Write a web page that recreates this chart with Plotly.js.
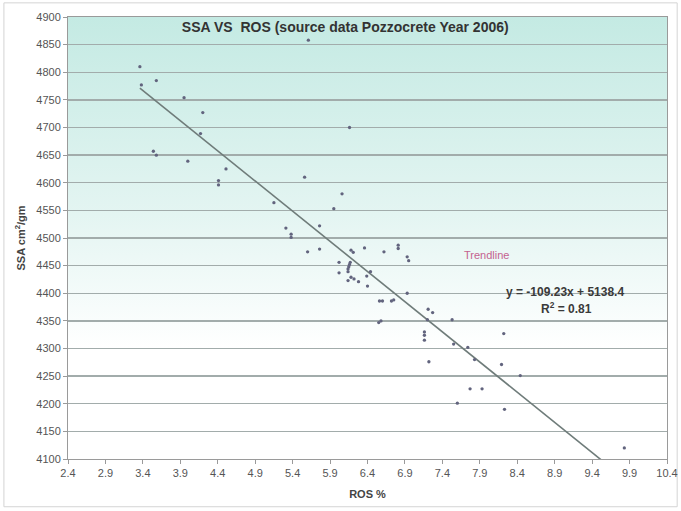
<!DOCTYPE html>
<html>
<head>
<meta charset="utf-8">
<script src="https://cdn.plot.ly/plotly-3.0.1.min.js"></script>
<style>
html,body{margin:0;padding:0;background:#fff;}
#chart{width:681px;height:511px;}
</style>
</head>
<body>
<div id="chart"></div>
<script>
// ROS % values
const rosValues = [
  3.36, 3.38, 3.58, 3.95, 4.20, 4.17, 3.54, 3.58, 4.00, 4.51, 4.41, 4.41,
  5.61, 6.16, 5.56, 6.06, 5.15, 5.95, 5.31, 5.38, 5.38, 5.76, 5.60, 5.76,
  6.18, 6.21, 6.02, 6.36, 6.62, 6.81, 6.81, 6.93, 6.95, 6.17, 6.16, 6.15,
  6.14, 6.14, 6.02, 6.44, 6.14, 6.18, 6.22, 6.28, 6.39, 6.40, 6.93, 6.56,
  6.60, 6.72, 6.75, 6.55, 6.58, 7.21, 7.27, 7.20, 7.53, 7.16, 7.16, 7.16,
  8.22, 7.55, 7.74, 7.83, 7.22, 8.19, 8.44, 7.77, 7.93, 7.60, 8.23, 9.83
];
// SSA cm2/gm values
const ssaValues = [
  4810, 4777, 4785, 4754, 4727, 4689, 4657, 4650, 4639, 4625, 4604, 4596,
  4858, 4700, 4610, 4580, 4564, 4553, 4518, 4507, 4501, 4522, 4475, 4480,
  4478, 4474, 4456, 4482, 4475, 4487, 4481, 4466, 4459, 4456, 4452, 4448,
  4444, 4439, 4437, 4439, 4423, 4429, 4426, 4421, 4431, 4413, 4400, 4386,
  4386, 4386, 4388, 4347, 4350, 4371, 4365, 4352, 4352, 4330, 4324, 4315,
  4327, 4308, 4302, 4280, 4276, 4271, 4251, 4227, 4227, 4201, 4190, 4120
];
// trendline parameters
const trendSlope = -109.23;
const trendIntercept = 5138.4;
const rSquared = 0.81;
const xTickVals = [2.4, 2.9, 3.4, 3.9, 4.4, 4.9, 5.4, 5.9, 6.4, 6.9, 7.4, 7.9, 8.4, 8.9, 9.4, 9.9, 10.4];
const yTickVals = [4100, 4150, 4200, 4250, 4300, 4350, 4400, 4450, 4500, 4550, 4600, 4650, 4700, 4750, 4800, 4850, 4900];

const xMin = Math.min(...rosValues), xMax = Math.max(...rosValues);
const trendX = [xMin, xMax];
const trendY = trendX.map(x => trendSlope * x + trendIntercept);

const gradSvg = '<svg xmlns="http://www.w3.org/2000/svg" width="100" height="100" preserveAspectRatio="none">' +
  '<defs><linearGradient id="g" x1="0" y1="0" x2="0" y2="1">' +
  '<stop offset="0" stop-color="#c4eae3"/><stop offset="0.45" stop-color="#e4f5f2"/>' +
  '<stop offset="0.75" stop-color="#ffffff"/><stop offset="1" stop-color="#ffffff"/></linearGradient></defs>' +
  '<rect width="100" height="100" fill="url(#g)"/></svg>';
const gradUri = 'data:image/svg+xml;charset=utf-8,' + encodeURIComponent(gradSvg);

const traces = [
  {
    x: trendX, y: trendY, type: 'scatter', mode: 'lines',
    line: {color: '#6f7c7a', width: 1.6}, hoverinfo: 'skip', showlegend: false
  },
  {
    x: rosValues, y: ssaValues, type: 'scatter', mode: 'markers',
    marker: {color: '#62647e', size: 3.3}, showlegend: false
  }
];

const layout = {
  width: 681, height: 511,
  margin: {l: 68, r: 14, t: 17, b: 52},
  paper_bgcolor: '#ffffff',
  plot_bgcolor: 'rgba(0,0,0,0)',
  font: {family: 'Arial, "Liberation Sans", sans-serif', size: 11, color: '#444'},
  title: {
    text: '<b>SSA VS  ROS (source data Pozzocrete Year 2006)</b>',
    font: {size: 14, color: '#333'},
    x: 0.507, xanchor: 'center', xref: 'container',
    y: 0.946, yanchor: 'middle', yref: 'container'
  },
  xaxis: {
    range: [2.4, 10.4], tickvals: xTickVals,
    ticktext: xTickVals.map(v => v.toFixed(1)),
    showgrid: false, zeroline: false,
    showline: true, linecolor: '#9a9a9a', linewidth: 1, mirror: true,
    ticks: 'outside', ticklen: 4, tickcolor: '#9a9a9a',
    tickfont: {size: 11, color: '#555'},
    title: {text: '<b>ROS %</b>', font: {size: 11, color: '#444'}, standoff: 12}
  },
  yaxis: {
    range: [4100, 4900], tickvals: yTickVals,
    showgrid: true, gridcolor: '#a2acab', gridwidth: 1.3, zeroline: false,
    showline: true, linecolor: '#9a9a9a', linewidth: 1, mirror: true,
    ticks: 'outside', ticklen: 4, tickcolor: '#9a9a9a',
    tickfont: {size: 11, color: '#555'},
    title: {text: '<b>SSA cm<sup>2</sup>/gm</b>', font: {size: 11, color: '#444'}, standoff: 8}
  },
  images: [{
    source: gradUri, xref: 'paper', yref: 'paper', x: 0, y: 1,
    sizex: 1, sizey: 1, sizing: 'stretch', layer: 'below',
    xanchor: 'left', yanchor: 'top'
  }],
  shapes: [{
    type: 'rect', xref: 'paper', yref: 'paper',
    x0: -0.107, x1: 1.017, y0: -0.108, y1: 1.032,
    line: {color: '#d4d4d4', width: 1}, fillcolor: 'rgba(0,0,0,0)', layer: 'below'
  }],
  annotations: [
    {x: 7.99, y: 4469, xref: 'x', yref: 'y', text: 'Trendline', showarrow: false,
     font: {size: 11, color: '#c4628f'}},
    {x: 9.04, y: 4403, xref: 'x', yref: 'y',
     text: '<b>y = ' + trendSlope + 'x + ' + trendIntercept + '</b>', showarrow: false,
     font: {size: 12, color: '#3a3a3a'}},
    {x: 9.06, y: 4373, xref: 'x', yref: 'y',
     text: '<b>R<sup>2</sup> = ' + rSquared + '</b>', showarrow: false,
     font: {size: 12, color: '#3a3a3a'}}
  ]
};

Plotly.newPlot('chart', traces, layout, {displayModeBar: false, staticPlot: true});
</script>
</body>
</html>
